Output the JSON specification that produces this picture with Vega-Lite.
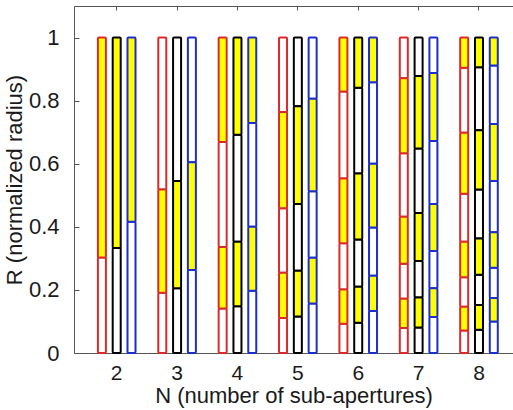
{
  "$schema": "https://vega.github.io/schema/vega-lite/v6.json",
  "autosize": {"type": "none"},
  "padding": {"left": 74, "top": 6, "right": 0, "bottom": 57},
  "width": 439,
  "height": 347,
  "background": "white",
  "config": {
    "view": {"stroke": null},
    "font": "Liberation Sans",
    "axis": {
      "grid": false,
      "domainColor": "#555555",
      "tickColor": "#555555",
      "labelColor": "#1a1a1a",
      "titleColor": "#1a1a1a",
      "labelFont": "Liberation Sans",
      "titleFont": "Liberation Sans",
      "labelFontSize": 21,
      "titleFontSize": 22,
      "titleFontWeight": "normal"
    }
  },
  "data": {
    "values": [
      {"N": 2, "d": "A", "s": 0, "lo": 0, "hi": 0.303},
      {"N": 2, "d": "A", "s": 1, "lo": 0.303, "hi": 1},
      {"N": 2, "d": "B", "s": 0, "lo": 0, "hi": 0.333},
      {"N": 2, "d": "B", "s": 1, "lo": 0.333, "hi": 1},
      {"N": 2, "d": "C", "s": 0, "lo": 0, "hi": 0.416},
      {"N": 2, "d": "C", "s": 1, "lo": 0.416, "hi": 1},

      {"N": 3, "d": "A", "s": 0, "lo": 0, "hi": 0.191},
      {"N": 3, "d": "A", "s": 1, "lo": 0.191, "hi": 0.518},
      {"N": 3, "d": "A", "s": 0, "lo": 0.518, "hi": 1},
      {"N": 3, "d": "B", "s": 0, "lo": 0, "hi": 0.205},
      {"N": 3, "d": "B", "s": 1, "lo": 0.205, "hi": 0.545},
      {"N": 3, "d": "B", "s": 0, "lo": 0.545, "hi": 1},
      {"N": 3, "d": "C", "s": 0, "lo": 0, "hi": 0.263},
      {"N": 3, "d": "C", "s": 1, "lo": 0.263, "hi": 0.605},
      {"N": 3, "d": "C", "s": 0, "lo": 0.605, "hi": 1},

      {"N": 4, "d": "A", "s": 0, "lo": 0, "hi": 0.141},
      {"N": 4, "d": "A", "s": 1, "lo": 0.141, "hi": 0.336},
      {"N": 4, "d": "A", "s": 0, "lo": 0.336, "hi": 0.669},
      {"N": 4, "d": "A", "s": 1, "lo": 0.669, "hi": 1},
      {"N": 4, "d": "B", "s": 0, "lo": 0, "hi": 0.148},
      {"N": 4, "d": "B", "s": 1, "lo": 0.148, "hi": 0.353},
      {"N": 4, "d": "B", "s": 0, "lo": 0.353, "hi": 0.692},
      {"N": 4, "d": "B", "s": 1, "lo": 0.692, "hi": 1},
      {"N": 4, "d": "C", "s": 0, "lo": 0, "hi": 0.197},
      {"N": 4, "d": "C", "s": 1, "lo": 0.197, "hi": 0.4},
      {"N": 4, "d": "C", "s": 0, "lo": 0.4, "hi": 0.729},
      {"N": 4, "d": "C", "s": 1, "lo": 0.729, "hi": 1},

      {"N": 5, "d": "A", "s": 0, "lo": 0, "hi": 0.111},
      {"N": 5, "d": "A", "s": 1, "lo": 0.111, "hi": 0.254},
      {"N": 5, "d": "A", "s": 0, "lo": 0.254, "hi": 0.459},
      {"N": 5, "d": "A", "s": 1, "lo": 0.459, "hi": 0.764},
      {"N": 5, "d": "A", "s": 0, "lo": 0.764, "hi": 1},
      {"N": 5, "d": "B", "s": 0, "lo": 0, "hi": 0.116},
      {"N": 5, "d": "B", "s": 1, "lo": 0.116, "hi": 0.261},
      {"N": 5, "d": "B", "s": 0, "lo": 0.261, "hi": 0.472},
      {"N": 5, "d": "B", "s": 1, "lo": 0.472, "hi": 0.782},
      {"N": 5, "d": "B", "s": 0, "lo": 0.782, "hi": 1},
      {"N": 5, "d": "C", "s": 0, "lo": 0, "hi": 0.157},
      {"N": 5, "d": "C", "s": 1, "lo": 0.157, "hi": 0.302},
      {"N": 5, "d": "C", "s": 0, "lo": 0.302, "hi": 0.513},
      {"N": 5, "d": "C", "s": 1, "lo": 0.513, "hi": 0.806},
      {"N": 5, "d": "C", "s": 0, "lo": 0.806, "hi": 1},

      {"N": 6, "d": "A", "s": 0, "lo": 0, "hi": 0.093},
      {"N": 6, "d": "A", "s": 1, "lo": 0.093, "hi": 0.201},
      {"N": 6, "d": "A", "s": 0, "lo": 0.201, "hi": 0.348},
      {"N": 6, "d": "A", "s": 1, "lo": 0.348, "hi": 0.553},
      {"N": 6, "d": "A", "s": 0, "lo": 0.553, "hi": 0.829},
      {"N": 6, "d": "A", "s": 1, "lo": 0.829, "hi": 1},
      {"N": 6, "d": "B", "s": 0, "lo": 0, "hi": 0.096},
      {"N": 6, "d": "B", "s": 1, "lo": 0.096, "hi": 0.21},
      {"N": 6, "d": "B", "s": 0, "lo": 0.21, "hi": 0.36},
      {"N": 6, "d": "B", "s": 1, "lo": 0.36, "hi": 0.569},
      {"N": 6, "d": "B", "s": 0, "lo": 0.569, "hi": 0.841},
      {"N": 6, "d": "B", "s": 1, "lo": 0.841, "hi": 1},
      {"N": 6, "d": "C", "s": 0, "lo": 0, "hi": 0.133},
      {"N": 6, "d": "C", "s": 1, "lo": 0.133, "hi": 0.245},
      {"N": 6, "d": "C", "s": 0, "lo": 0.245, "hi": 0.398},
      {"N": 6, "d": "C", "s": 1, "lo": 0.398, "hi": 0.6},
      {"N": 6, "d": "C", "s": 0, "lo": 0.6, "hi": 0.858},
      {"N": 6, "d": "C", "s": 1, "lo": 0.858, "hi": 1},

      {"N": 7, "d": "A", "s": 0, "lo": 0, "hi": 0.079},
      {"N": 7, "d": "A", "s": 1, "lo": 0.079, "hi": 0.172},
      {"N": 7, "d": "A", "s": 0, "lo": 0.172, "hi": 0.283},
      {"N": 7, "d": "A", "s": 1, "lo": 0.283, "hi": 0.432},
      {"N": 7, "d": "A", "s": 0, "lo": 0.432, "hi": 0.633},
      {"N": 7, "d": "A", "s": 1, "lo": 0.633, "hi": 0.871},
      {"N": 7, "d": "A", "s": 0, "lo": 0.871, "hi": 1},
      {"N": 7, "d": "B", "s": 0, "lo": 0, "hi": 0.081},
      {"N": 7, "d": "B", "s": 1, "lo": 0.081, "hi": 0.176},
      {"N": 7, "d": "B", "s": 0, "lo": 0.176, "hi": 0.292},
      {"N": 7, "d": "B", "s": 1, "lo": 0.292, "hi": 0.444},
      {"N": 7, "d": "B", "s": 0, "lo": 0.444, "hi": 0.648},
      {"N": 7, "d": "B", "s": 1, "lo": 0.648, "hi": 0.878},
      {"N": 7, "d": "B", "s": 0, "lo": 0.878, "hi": 1},
      {"N": 7, "d": "C", "s": 0, "lo": 0, "hi": 0.114},
      {"N": 7, "d": "C", "s": 1, "lo": 0.114, "hi": 0.205},
      {"N": 7, "d": "C", "s": 0, "lo": 0.205, "hi": 0.323},
      {"N": 7, "d": "C", "s": 1, "lo": 0.323, "hi": 0.472},
      {"N": 7, "d": "C", "s": 0, "lo": 0.472, "hi": 0.672},
      {"N": 7, "d": "C", "s": 1, "lo": 0.672, "hi": 0.888},
      {"N": 7, "d": "C", "s": 0, "lo": 0.888, "hi": 1},

      {"N": 8, "d": "A", "s": 0, "lo": 0, "hi": 0.071},
      {"N": 8, "d": "A", "s": 1, "lo": 0.071, "hi": 0.147},
      {"N": 8, "d": "A", "s": 0, "lo": 0.147, "hi": 0.24},
      {"N": 8, "d": "A", "s": 1, "lo": 0.24, "hi": 0.353},
      {"N": 8, "d": "A", "s": 0, "lo": 0.353, "hi": 0.505},
      {"N": 8, "d": "A", "s": 1, "lo": 0.505, "hi": 0.698},
      {"N": 8, "d": "A", "s": 0, "lo": 0.698, "hi": 0.904},
      {"N": 8, "d": "A", "s": 1, "lo": 0.904, "hi": 1},
      {"N": 8, "d": "B", "s": 0, "lo": 0, "hi": 0.074},
      {"N": 8, "d": "B", "s": 1, "lo": 0.074, "hi": 0.152},
      {"N": 8, "d": "B", "s": 0, "lo": 0.152, "hi": 0.248},
      {"N": 8, "d": "B", "s": 1, "lo": 0.248, "hi": 0.363},
      {"N": 8, "d": "B", "s": 0, "lo": 0.363, "hi": 0.518},
      {"N": 8, "d": "B", "s": 1, "lo": 0.518, "hi": 0.706},
      {"N": 8, "d": "B", "s": 0, "lo": 0.706, "hi": 0.906},
      {"N": 8, "d": "B", "s": 1, "lo": 0.906, "hi": 1},
      {"N": 8, "d": "C", "s": 0, "lo": 0, "hi": 0.1},
      {"N": 8, "d": "C", "s": 1, "lo": 0.1, "hi": 0.174},
      {"N": 8, "d": "C", "s": 0, "lo": 0.174, "hi": 0.27},
      {"N": 8, "d": "C", "s": 1, "lo": 0.27, "hi": 0.383},
      {"N": 8, "d": "C", "s": 0, "lo": 0.383, "hi": 0.545},
      {"N": 8, "d": "C", "s": 1, "lo": 0.545, "hi": 0.726},
      {"N": 8, "d": "C", "s": 0, "lo": 0.726, "hi": 0.911},
      {"N": 8, "d": "C", "s": 1, "lo": 0.911, "hi": 1}
    ]
  },
  "encoding": {
    "x": {
      "field": "N",
      "type": "ordinal",
      "scale": {"paddingInner": 0.377, "paddingOuter": 0.3238, "align": 0.611, "round": false}
    },
    "xOffset": {
      "field": "d",
      "type": "nominal",
      "scale": {"paddingInner": 0.459, "paddingOuter": 0, "round": false}
    },
    "y": {
      "field": "lo",
      "type": "quantitative",
      "scale": {"domain": [0, 1.1], "nice": false, "zero": true},
      "axis": {
        "title": "R (normalized radius)",
        "values": [0, 0.2, 0.4, 0.6, 0.8, 1],
        "format": "~g",
        "tickSize": -5,
        "labelFontSize": 22,
        "labelPadding": 20,
        "titlePadding": 2
      }
    },
    "y2": {"field": "hi"},
    "stroke": {
      "field": "d",
      "type": "nominal",
      "scale": {"domain": ["A", "B", "C"], "range": ["#dc2a2a", "#000000", "#1c2fcc"]},
      "legend": null
    }
  },
  "layer": [
    {
      "transform": [{"filter": "datum.s == 0"}],
      "mark": {"type": "bar", "fill": "#ffffff", "strokeWidth": 2, "cornerRadius": 1},
      "encoding": {
        "x": {
          "field": "N",
          "type": "ordinal",
          "axis": {
            "orient": "bottom",
            "title": "N (number of sub-apertures)",
            "labelAngle": 0,
            "tickSize": -5,
            "labelPadding": 14,
            "titlePadding": 2
          }
        }
      }
    },
    {
      "transform": [{"filter": "datum.s == 1"}],
      "mark": {"type": "bar", "fill": "#ffff00", "strokeWidth": 2, "cornerRadius": 1},
      "encoding": {
        "x": {
          "field": "N",
          "type": "ordinal",
          "axis": {
            "orient": "top",
            "title": null,
            "labels": false,
            "tickSize": -4
          }
        }
      }
    }
  ],
  "resolve": {"axis": {"x": "independent"}}
}
